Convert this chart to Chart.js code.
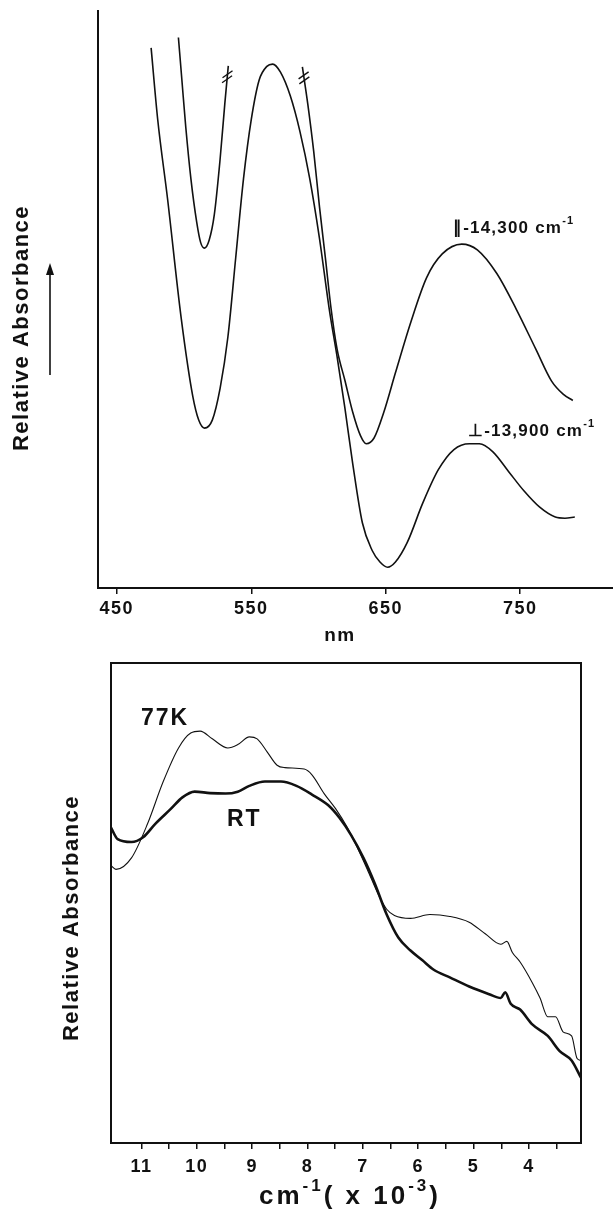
<!DOCTYPE html>
<html>
<head>
<meta charset="utf-8">
<script src="https://cdn.jsdelivr.net/npm/chart.js@4.4.1/dist/chart.umd.min.js"></script>
<style>
  html, body { margin: 0; padding: 0; background: #fff; }
  #wrap { position: relative; width: 613px; height: 1214px; overflow: hidden; }
  canvas { position: absolute; left: 0; }
  #topChart { top: 0; }
  #bottomChart { top: 645px; }
</style>
</head>
<body>
<div id="wrap">
  <canvas id="topChart" width="613" height="645"></canvas>
  <canvas id="bottomChart" width="613" height="569"></canvas>
</div>
<script>
// 上图：偏振吸收光谱 (nm)
const perpNm = [475.5, 480.4, 487.7, 497.8, 506.5, 510.9, 515.2, 521, 526.8, 532.6, 538.4, 544.2, 550, 555.8, 561.6, 565.9, 571.7, 579, 586.2, 593.5, 600.7, 608, 613.8, 619.6, 625.4, 632.6, 639.9, 645.7, 651.4, 657.2, 666, 677.5, 689.1, 700.7, 712.3, 719.6, 729.7, 741.3, 752.9, 764.5, 776.1, 783.3, 790.6];
const perpAbs = [93.6, 81.2, 67.5, 46.9, 33.2, 29.1, 27.7, 29.1, 34.6, 43.5, 57.2, 70.9, 81.2, 88.0, 90.4, 90.8, 89.4, 85.3, 79.1, 70.9, 60.6, 48.3, 40.1, 31.2, 21.6, 11.3, 6.5, 4.5, 3.6, 4.5, 7.9, 14.7, 20.5, 24.0, 25.0, 25.0, 23.6, 20.2, 16.8, 14.0, 12.3, 12.1, 12.3];
// null = 断开处
const parNm = [495.8, 498.4, 501.3, 505.1, 509.4, 512.3, 515.2, 518.7, 522.5, 526.8, 530.3, 532.9, 560, 588, 592, 596.4, 600.7, 605.1, 609.4, 613.8, 619.6, 625.4, 631.2, 635.5, 641.3, 648.6, 657.2, 668.8, 680.4, 692, 706.5, 718.1, 732.6, 747.1, 761.6, 773.2, 781.9, 789.1];
const parAbs = [95.4, 88.0, 79.8, 70.9, 63.4, 59.9, 58.9, 60.3, 64.7, 74.3, 83.9, 90.5, null, 90.3, 83.9, 75.7, 66.1, 57.2, 48.3, 41.4, 36.0, 30.5, 26.4, 25.0, 26.0, 30.5, 37.3, 46.2, 53.8, 57.9, 59.6, 58.6, 54.5, 48.3, 41.4, 35.9, 33.6, 32.5];
const nmTicks = [450, 550, 650, 750];

// 下图：77K 与室温 (cm-1 x 10-3)
const k77 = [11.55, 11.46, 11.18, 10.89, 10.61, 10.33, 10.11, 9.94, 9.72, 9.44, 9.26, 9.05, 8.91, 8.73, 8.55, 8.41, 8.06, 7.92, 7.70, 7.49, 7.28, 7.14, 6.92, 6.71, 6.57, 6.43, 6.14, 5.79, 5.43, 5.08, 4.79, 4.51, 4.40, 4.30, 4.16, 3.94, 3.80, 3.66, 3.52, 3.38, 3.23, 3.13, 3.06];
const abs77 = [57.8, 57.0, 59.4, 66.5, 75.2, 82.3, 85.4, 85.8, 84.2, 82.3, 83.0, 84.6, 84.2, 81.5, 78.7, 78.2, 77.9, 76.7, 72.8, 69.6, 65.7, 62.5, 57.0, 51.5, 48.7, 47.4, 46.8, 47.6, 47.2, 46.0, 43.6, 41.4, 42.0, 39.7, 37.7, 33.4, 30.2, 26.3, 26.3, 23.1, 22.3, 17.6, 17.2];
const kRT = [11.55, 11.43, 11.18, 10.97, 10.75, 10.47, 10.26, 10.04, 9.76, 9.48, 9.26, 9.05, 8.77, 8.48, 8.20, 7.92, 7.63, 7.42, 7.21, 6.99, 6.78, 6.57, 6.36, 6.14, 5.93, 5.72, 5.43, 5.08, 4.72, 4.51, 4.43, 4.33, 4.16, 3.94, 3.66, 3.45, 3.23, 3.06];
const absRT = [65.7, 63.3, 62.7, 63.7, 66.5, 69.6, 72.0, 73.2, 72.9, 72.8, 73.2, 74.4, 75.3, 75.3, 74.4, 72.6, 70.4, 67.7, 64.1, 59.4, 53.9, 47.6, 42.8, 40.1, 38.1, 36.1, 34.5, 32.6, 31.0, 30.2, 31.4, 29.0, 27.8, 24.7, 22.3, 19.2, 17.2, 13.6];
const kTicks = [11, 10.5, 10, 9.5, 9, 8.5, 8, 7.5, 7, 6.5, 6, 5.5, 5, 4.5, 4, 3.5];

const FONT = '"Liberation Sans", Arial, Helvetica, sans-serif';
const INK = '#111';
Chart.defaults.font.family = FONT;
Chart.defaults.color = INK;

const toXY = (xs, ys) => xs.map((x, i) => ({ x, y: ys[i] }));

// 文字（可带上标）
function drawRich(ctx, t) {
  const segs = t.parts.map(p => {
    const isSup = typeof p !== 'string';
    return {
      text: isSup ? p.sup : p,
      size: isSup ? Math.round(t.size * 0.64) : t.size,
      rise: isSup ? t.size * 0.42 : 0
    };
  });
  ctx.save();
  ctx.fillStyle = INK;
  ctx.textBaseline = 'middle';
  ctx.textAlign = 'left';
  ctx.letterSpacing = (t.spacing || 0) + 'px';
  let total = 0;
  segs.forEach(s => {
    ctx.font = `bold ${s.size}px ${FONT}`;
    s.w = ctx.measureText(s.text).width;
    total += s.w;
  });
  ctx.translate(t.x, t.y);
  if (t.rot) ctx.rotate(t.rot);
  let x = t.align === 'center' ? -total / 2 : 0;
  segs.forEach(s => {
    ctx.font = `bold ${s.size}px ${FONT}`;
    ctx.fillText(s.text, x, -s.rise);
    x += s.w;
  });
  ctx.restore();
}

const textPlugin = {
  id: 'texts',
  beforeDraw(chart) {
    chart.ctx.letterSpacing = '1.5px';
  },
  afterDraw(chart, args, opts) {
    (opts.items || []).forEach(t => drawRich(chart.ctx, t));
    (opts.arrows || []).forEach(a => {
      const ctx = chart.ctx;
      ctx.save();
      ctx.strokeStyle = INK;
      ctx.fillStyle = INK;
      ctx.lineWidth = 1.6;
      ctx.beginPath();
      ctx.moveTo(a.x, a.y1);
      ctx.lineTo(a.x, a.y0 + 8);
      ctx.stroke();
      ctx.beginPath();
      ctx.moveTo(a.x, a.y0);
      ctx.lineTo(a.x - 4, a.y0 + 12);
      ctx.lineTo(a.x + 4, a.y0 + 12);
      ctx.closePath();
      ctx.fill();
      ctx.restore();
    });
  }
};

// 断线符号 //
const breakMarks = {
  id: 'breakMarks',
  afterDatasetsDraw(chart) {
    const ds = chart.data.datasets[1].data;
    const pts = chart.getDatasetMeta(1).data;
    const ctx = chart.ctx;
    ctx.save();
    ctx.strokeStyle = INK;
    ctx.lineWidth = 1.4;
    ds.forEach((d, i) => {
      if (d.y !== null) return;
      [[i - 1, i - 2], [i + 1, i + 2]].forEach(([a, b]) => {
        const p = pts[a], q = pts[b];
        const dx = q.x - p.x, dy = q.y - p.y, len = Math.hypot(dx, dy);
        const ux = dx / len, uy = dy / len;
        const cx = p.x + ux * 11, cy = p.y + uy * 11;
        [-2.5, 2.5].forEach(off => {
          const mx = cx + ux * off, my = cy + uy * off;
          ctx.beginPath();
          ctx.moveTo(mx - 5, my + 3.5);
          ctx.lineTo(mx + 5, my - 3.5);
          ctx.stroke();
        });
      });
    });
    ctx.restore();
  }
};

// 下图外框
const framePlugin = {
  id: 'frame',
  afterDatasetsDraw(chart, args, opts) {
    if (!opts.show) return;
    const { left, top, right, bottom } = chart.chartArea;
    const ctx = chart.ctx;
    ctx.save();
    ctx.strokeStyle = INK;
    ctx.lineWidth = 2;
    ctx.strokeRect(left, top, right - left, bottom - top);
    ctx.restore();
  }
};

Chart.register(textPlugin, framePlugin);

const axisGrid = {
  display: true,
  drawOnChartArea: false,
  drawTicks: true,
  tickLength: 6,
  color: INK,
  lineWidth: 1.5
};

// 初始化上图
new Chart(document.getElementById('topChart'), {
  type: 'line',
  data: {
    datasets: [
      { label: '⊥', data: toXY(perpNm, perpAbs) },
      { label: '∥', data: toXY(parNm, parAbs), spanGaps: false }
    ]
  },
  options: {
    responsive: false,
    animation: false,
    devicePixelRatio: 1,
    layout: { padding: { top: 11, right: 0, left: 0, bottom: 0 } },
    elements: {
      point: { radius: 0 },
      line: { borderColor: INK, borderWidth: 1.6, cubicInterpolationMode: 'monotone' }
    },
    plugins: {
      legend: { display: false },
      tooltip: { enabled: false },
      frame: { show: false },
      texts: {
        items: [
          { parts: ['Relative Absorbance'], x: 22, y: 328, size: 22, spacing: 1.5, rot: -Math.PI / 2, align: 'center' },
          { parts: ['nm'], x: 340, y: 636, size: 19, spacing: 1.5, align: 'center' },
          { parts: ['∥-14,300 cm', { sup: '-1' }], x: 453, y: 228, size: 17, spacing: 1.2 },
          { parts: ['⊥-13,900 cm', { sup: '-1' }], x: 468, y: 431, size: 17, spacing: 1.2 }
        ],
        arrows: [{ x: 50, y0: 263, y1: 375 }]
      }
    },
    scales: {
      x: {
        type: 'linear',
        min: 436,
        max: 819,
        afterBuildTicks: s => { s.ticks = nmTicks.map(v => ({ value: v })); },
        afterFit: s => { s.height = 57; },
        ticks: { autoSkip: false, maxRotation: 0, padding: 4, font: { size: 18, weight: 'bold' }, color: INK },
        grid: axisGrid,
        border: { display: true, color: INK, width: 2 }
      },
      y: {
        min: 0,
        max: 100,
        afterFit: s => { s.width = 98; },
        ticks: { display: false },
        grid: { display: false },
        border: { display: true, color: INK, width: 2 }
      }
    }
  },
  plugins: [breakMarks]
});

// 初始化下图
new Chart(document.getElementById('bottomChart'), {
  type: 'line',
  data: {
    datasets: [
      { label: '77K', data: toXY(k77, abs77), borderWidth: 1.1 },
      { label: 'RT', data: toXY(kRT, absRT), borderWidth: 2.6 }
    ]
  },
  options: {
    responsive: false,
    animation: false,
    devicePixelRatio: 1,
    layout: { padding: { top: 18, right: 32, left: 0, bottom: 0 } },
    elements: {
      point: { radius: 0 },
      line: { borderColor: INK, cubicInterpolationMode: 'monotone' }
    },
    plugins: {
      legend: { display: false },
      tooltip: { enabled: false },
      frame: { show: true },
      texts: {
        items: [
          { parts: ['Relative Absorbance'], x: 72, y: 273, size: 22, spacing: 1.5, rot: -Math.PI / 2, align: 'center' },
          { parts: ['77K'], x: 141, y: 74, size: 23, spacing: 2 },
          { parts: ['RT'], x: 227, y: 175, size: 23, spacing: 2 },
          { parts: ['cm', { sup: '-1' }, '( x 10', { sup: '-3' }, ')'], x: 350, y: 552, size: 26, spacing: 3, align: 'center' }
        ]
      }
    },
    scales: {
      x: {
        type: 'linear',
        reverse: true,
        min: 3.06,
        max: 11.55,
        afterBuildTicks: s => { s.ticks = kTicks.map(v => ({ value: v })); },
        afterFit: s => { s.height = 71; },
        ticks: {
          autoSkip: false,
          maxRotation: 0,
          padding: 7,
          font: { size: 18, weight: 'bold' },
          color: INK,
          callback: v => (Number.isInteger(v) ? String(v) : '')
        },
        grid: axisGrid,
        border: { display: true, color: INK, width: 2 }
      },
      y: {
        min: 0,
        max: 100,
        afterFit: s => { s.width = 111; },
        ticks: { display: false },
        grid: { display: false },
        border: { display: true, color: INK, width: 2 }
      }
    }
  }
});
</script>
</body>
</html>
